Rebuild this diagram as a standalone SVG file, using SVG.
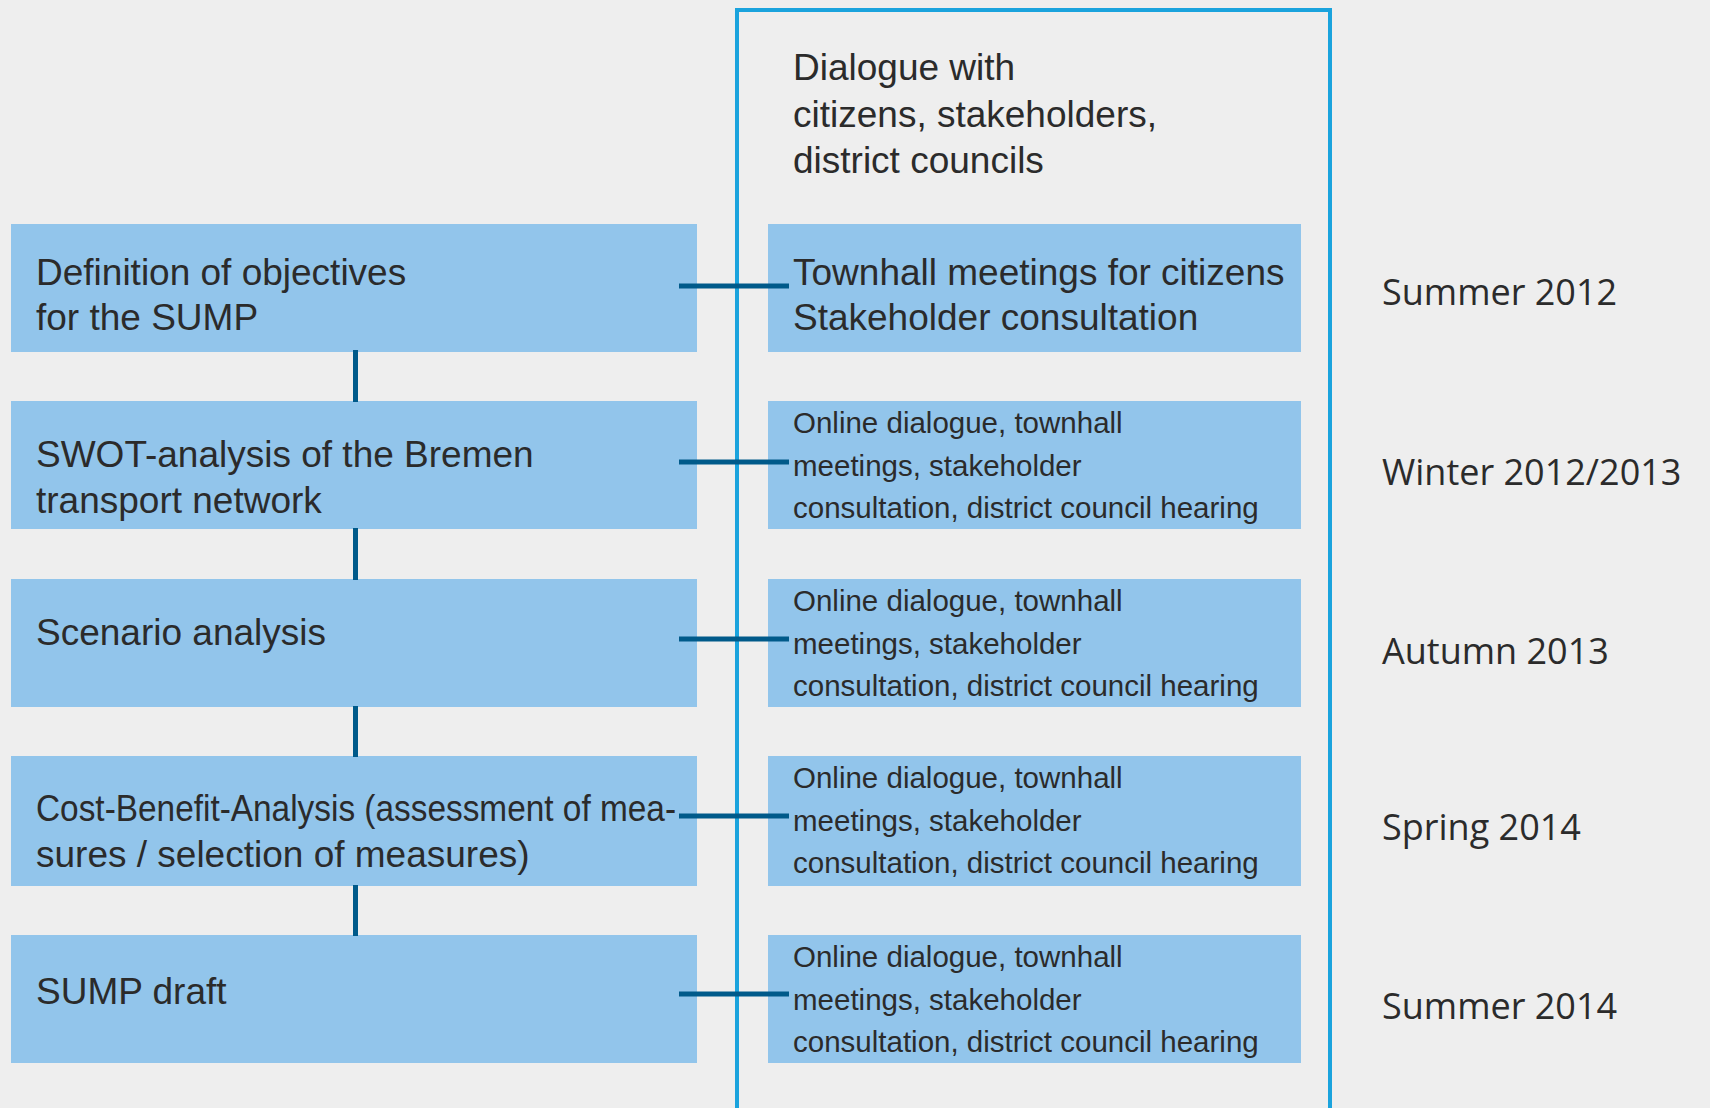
<svg xmlns="http://www.w3.org/2000/svg" width="1710" height="1108" viewBox="0 0 1710 1108">
<style>
.bg{fill:#eeeeee}
.box{fill:#92c5eb}
.t{font-family:"Liberation Sans",Arial,sans-serif;font-size:37px;fill:#2b2b2b}
.s{font-family:"Liberation Sans",Arial,sans-serif;font-size:29.5px;fill:#2b2b2b}
.d{font-family:"Open Sans","DejaVu Sans",sans-serif;font-size:36px;fill:#2b2b2b}
.frame{fill:none;stroke:#1aa3dd;stroke-width:4}
.c{stroke:#005a8a;stroke-width:5;fill:none}
</style>
<rect class="bg" x="0" y="0" width="1710" height="1108"/>
<path class="frame" d="M737,1112 V10 H1330 V1112"/>
<g id="header">
<text class="t" x="793" y="80">Dialogue with</text>
<text class="t" x="793" y="127">citizens, stakeholders,</text>
<text class="t" x="793" y="173">district councils</text>
</g>
<g id="step1">
<rect class="box" x="11" y="224" width="686" height="128"/>
<text class="t" x="36" y="285">Definition of objectives</text>
<text class="t" x="36" y="330">for the SUMP</text>
</g>
<g id="step2">
<rect class="box" x="11" y="401" width="686" height="128"/>
<text class="t" x="36" y="467">SWOT-analysis of the Bremen</text>
<text class="t" x="36" y="513">transport network</text>
</g>
<g id="step3">
<rect class="box" x="11" y="579" width="686" height="128"/>
<text class="t" x="36" y="645">Scenario analysis</text>
</g>
<g id="step4">
<rect class="box" x="11" y="756" width="686" height="130"/>
<text class="t" x="36" y="821" textLength="640" lengthAdjust="spacingAndGlyphs">Cost-Benefit-Analysis (assessment of mea-</text>
<text class="t" x="36" y="867">sures / selection of measures)</text>
</g>
<g id="step5">
<rect class="box" x="11" y="935" width="686" height="128"/>
<text class="t" x="36" y="1004">SUMP draft</text>
</g>
<g id="dialogue1">
<rect class="box" x="768" y="224" width="533" height="128"/>
<text class="t" x="793" y="285">Townhall meetings for citizens</text>
<text class="t" x="793" y="330">Stakeholder consultation</text>
</g>
<g id="dialogue2">
<rect class="box" x="768" y="401" width="533" height="128"/>
<text class="s" x="793" y="433">Online dialogue, townhall</text>
<text class="s" x="793" y="476">meetings, stakeholder</text>
<text class="s" x="793" y="518">consultation, district council hearing</text>
</g>
<g id="dialogue3">
<rect class="box" x="768" y="579" width="533" height="128"/>
<text class="s" x="793" y="611">Online dialogue, townhall</text>
<text class="s" x="793" y="654">meetings, stakeholder</text>
<text class="s" x="793" y="696">consultation, district council hearing</text>
</g>
<g id="dialogue4">
<rect class="box" x="768" y="756" width="533" height="130"/>
<text class="s" x="793" y="788">Online dialogue, townhall</text>
<text class="s" x="793" y="831">meetings, stakeholder</text>
<text class="s" x="793" y="873">consultation, district council hearing</text>
</g>
<g id="dialogue5">
<rect class="box" x="768" y="935" width="533" height="128"/>
<text class="s" x="793" y="967">Online dialogue, townhall</text>
<text class="s" x="793" y="1010">meetings, stakeholder</text>
<text class="s" x="793" y="1052">consultation, district council hearing</text>
</g>
<g id="dates">
<text class="d" x="1382" y="305">Summer 2012</text>
<text class="d" x="1382" y="485">Winter 2012/2013</text>
<text class="d" x="1382" y="664">Autumn 2013</text>
<text class="d" x="1382" y="840">Spring 2014</text>
<text class="d" x="1382" y="1019">Summer 2014</text>
</g>
<g id="connectors">
<line class="c" x1="355.5" y1="350" x2="355.5" y2="402"/>
<line class="c" x1="355.5" y1="528" x2="355.5" y2="580"/>
<line class="c" x1="355.5" y1="706" x2="355.5" y2="757"/>
<line class="c" x1="355.5" y1="885" x2="355.5" y2="936"/>
<line class="c" x1="679" y1="286" x2="789" y2="286"/>
<line class="c" x1="679" y1="462" x2="789" y2="462"/>
<line class="c" x1="679" y1="639" x2="789" y2="639"/>
<line class="c" x1="679" y1="816" x2="789" y2="816"/>
<line class="c" x1="679" y1="994" x2="789" y2="994"/>
</g>
</svg>
